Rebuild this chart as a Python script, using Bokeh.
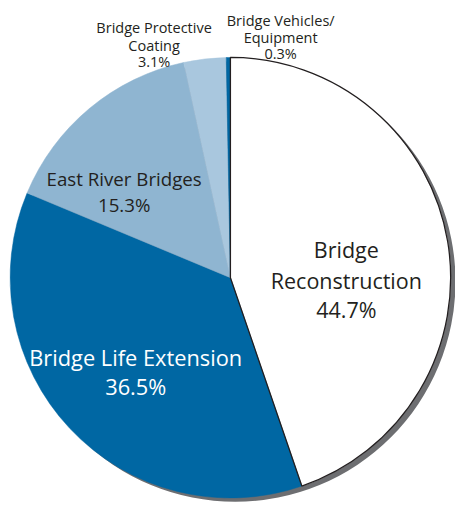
import numpy as np
from bokeh.plotting import figure
from bokeh.models import Range1d, ColumnDataSource
from bokeh.core.properties import value
from bokeh.embed import file_html
from bokeh.resources import INLINE

# ---- data (clockwise from 12 o'clock) ----
categories = ["Bridge Reconstruction", "Bridge Life Extension", "East River Bridges",
              "Bridge Protective Coating", "Bridge Vehicles/Equipment"]
shares = [44.7, 36.5, 15.3, 3.1, 0.3]
name_lines = [["Bridge", "Reconstruction"], ["Bridge Life Extension"], ["East River Bridges"],
              ["Bridge Protective", "Coating"], ["Bridge Vehicles/", "Equipment"]]
colors = ["#ffffff", "#0067a3", "#8fb5d1", "#a9c7de", "#0067a3"]

# ---- layout: data units = pixels of the 471x521 reference ----
W, H = 455, 505
REF_W, REF_H = 471, 521
S = W / REF_W  # font scale

def sy(y):  # reference screen y -> data y
    return REF_H - y

CX, CY, R = 238, sy(286), 228

p = figure(width=W, height=H, output_backend="svg", toolbar_location=None,
           x_range=Range1d(0, REF_W), y_range=Range1d(0, REF_H),
           min_border=0, x_axis_location=None, y_axis_location=None)
p.grid.visible = False
p.outline_line_color = None
p.background_fill_color = "white"
p.border_fill_color = "white"

total = float(sum(shares))
cum = np.concatenate([[0.0], np.cumsum(shares)]) / total
start = np.pi / 2 - 2 * np.pi * cum[:-1]
end = np.pi / 2 - 2 * np.pi * cum[1:]

src = ColumnDataSource(dict(cat=categories, start=start, end=end, color=colors,
                            x=[CX] * len(shares), y=[CY] * len(shares)))

# shadow
p.circle(x=[CX + 5], y=[CY - 4], radius=R, fill_color="#6d6e71", line_color=None)
# slices
p.wedge(x="x", y="y", radius=R, start_angle="start", end_angle="end", direction="clock",
        fill_color="color", line_color="color", line_width=0.5, source=src)
# outline of the white slice
p.wedge(x=[CX], y=[CY], radius=R, start_angle=[start[0]], end_angle=[end[0]], direction="clock",
        fill_color=None, line_color="#231f20", line_width=1.3)

# labels
label_pos = [  # x centre, baselines (reference screen y), font size (ref px), colour
    (358, [257, 289, 319], 22.3, "#231f20"),
    (140, [368, 398], 22.6, "#ffffff"),
    (128, [184, 210], 19.4, "#231f20"),
    (159, [28, 46, 63], 15.0, "#231f20"),
    (290, [21, 38, 55], 15.0, "#231f20"),
]
for i, (lx, bases, fs, col) in enumerate(label_pos):
    lines = name_lines[i] + [f"{shares[i]}%"]
    p.text(x=[lx] * len(lines), y=[sy(b) for b in bases], text=lines,
           text_align="center", text_baseline="alphabetic",
           text_font=value("Open Sans"), text_font_size=f"{fs * S:.1f}px", text_color=col)

open("out.html", "w").write(file_html(p, INLINE))
